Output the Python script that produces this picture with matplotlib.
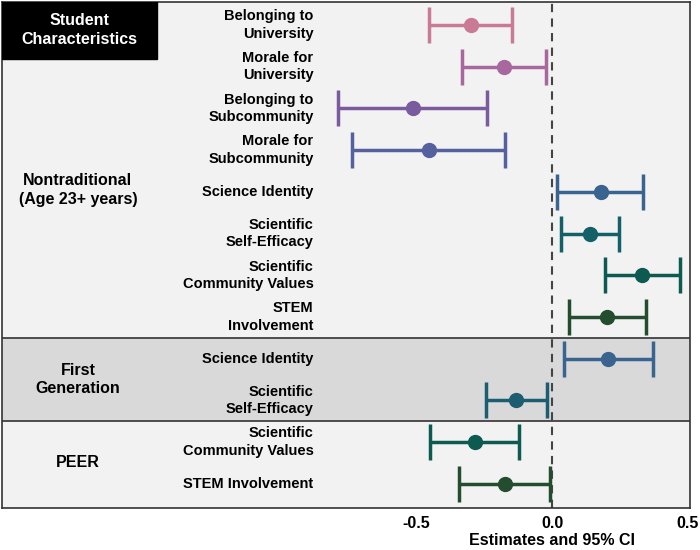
import matplotlib.pyplot as plt
from matplotlib.patches import Rectangle

plt.rcParams['font.family'] = 'Liberation Sans'
plt.rcParams['font.weight'] = 'bold'

labels = ['Belonging to\nUniversity', 'Morale for\nUniversity', 'Belonging to\nSubcommunity',
          'Morale for\nSubcommunity', 'Science Identity', 'Scientific\nSelf-Efficacy',
          'Scientific\nCommunity Values', 'STEM\nInvolvement', 'Science Identity',
          'Scientific\nSelf-Efficacy', 'Scientific\nCommunity Values', 'STEM Involvement']
est = [-0.30, -0.177, -0.513, -0.455, 0.18, 0.141, 0.332, 0.204, 0.208, -0.132, -0.285, -0.175]
lo = [-0.455, -0.332, -0.79, -0.738, 0.02, 0.032, 0.194, 0.062, 0.043, -0.245, -0.449, -0.343]
hi = [-0.148, -0.021, -0.239, -0.172, 0.336, 0.246, 0.471, 0.348, 0.373, -0.018, -0.122, -0.009]
colors = ['#c97b95', '#a8689e', '#7a5c9e', '#55609e', '#3a6390', '#136068',
          '#0c5a50', '#244d30', '#3a6390', '#1d5d72', '#0c5a50', '#244d30']
groups = [('Nontraditional\n(Age 23+ years)', 0, 7, '#f2f2f2'),
          ('First\nGeneration', 8, 9, '#d9d9d9'),
          ('PEER', 10, 11, '#f2f2f2')]
xticks = [-0.5, 0.0, 0.5]

fig = plt.figure(figsize=(7, 5.5), dpi=100)
ax = fig.add_axes([2 / 700, 42 / 550, 688 / 700, 506 / 550])
ax.set_xlim(-2.03, 0.509)
ax.set_ylim(11.58, -0.55)

for name, a, b, c in groups:
    ax.axhspan(a - 0.5 if a > 0 else -0.6, b + 0.5 if b < 11 else 11.7, color=c, zorder=0)
    if a > 0:
        ax.axhline(a - 0.5, color='#333333', lw=1.2, zorder=1)
    ax.text(-1.75, (a + b) / 2 + (0.45 if a == 0 else 0), name, ha='center', va='center',
            fontsize=11.5, fontweight='bold', linespacing=1.3)

ax.add_patch(Rectangle((0, 1 - 57 / 506), 155 / 688, 57 / 506, transform=ax.transAxes,
                       color='black', zorder=3))
ax.text(77 / 688, 1 - 28 / 506, 'Student\nCharacteristics', transform=ax.transAxes,
        color='white', ha='center', va='center', fontsize=11.5, fontweight='bold',
        zorder=4, linespacing=1.3)

ax.axvline(0, color='#444444', ls=(0, (4, 3)), lw=1.5, zorder=2)

for i, lab in enumerate(labels):
    ax.errorbar(est[i], i, xerr=[[est[i] - lo[i]], [hi[i] - est[i]]], fmt='o',
                color=colors[i], ms=10, elinewidth=2.5, capsize=13, capthick=2.5, zorder=5)
    ax.text(-0.88, i, lab, ha='right', va='center', fontsize=10.5, fontweight='bold',
            linespacing=1.3)

ax.set_yticks([])
ax.set_xticks(xticks)
ax.set_xticklabels(['%.1f' % t for t in xticks], fontsize=11.5, fontweight='bold')
ax.tick_params(axis='x', length=0, pad=6)
ax.set_xlabel('Estimates and 95% CI', fontsize=11.5, fontweight='bold', labelpad=2)
ax.xaxis.set_label_coords((552 - 2) / 688 - 0.0, -0.05)
for s in ax.spines.values():
    s.set_color('#333333')
    s.set_linewidth(1.2)

fig.savefig('out.png', dpi=100)
